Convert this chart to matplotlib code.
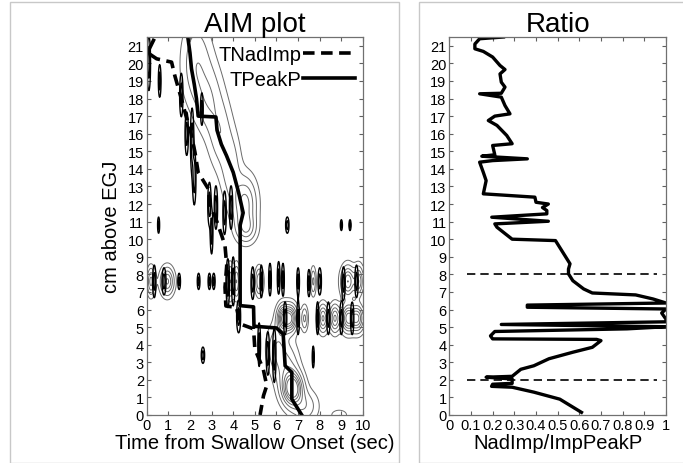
import numpy as np
import matplotlib
matplotlib.use("Agg")
import matplotlib.pyplot as plt
from matplotlib.patches import Rectangle
from matplotlib.ticker import FuncFormatter

plt.rcParams['font.family'] = ['Liberation Sans', 'DejaVu Sans']

# TPeakP / TNadImp traces (time in s, position in cm above EGJ)
peak_t = [1.9, 2.0, 2.07, 2.2, 2.3, 2.38, 3.2, 3.25, 3.45, 3.69, 4.0, 4.24, 4.46, 4.32, 4.32, 4.94, 4.96, 6.0, 6.31, 6.4, 6.71, 6.71, 7.17]
peak_z = [21.5, 20.6, 19.7, 18.8, 18.0, 17.0, 16.95, 16.2, 15.4, 14.75, 13.8, 12.7, 11.5, 10.8, 6.22, 6.15, 5.05, 4.95, 4.6, 2.8, 2.43, 0.9, 0.0]
nad_t = [0.35, 0.15, 0.05, 0.46, 1.15, 1.3, 1.6, 1.82, 2.0, 2.23, 2.38, 2.85, 2.93, 3.16, 3.47, 3.62, 3.70, 3.62, 3.66, 4.15, 4.32, 4.94, 5.0, 5.39, 5.55, 5.4, 5.24]
nad_z = [21.4, 20.9, 20.6, 20.26, 20.07, 19.3, 18.0, 17.0, 16.3, 14.95, 13.8, 12.86, 11.9, 11.3, 10.2, 9.63, 8.5, 7.27, 6.2, 6.12, 5.18, 4.9, 3.76, 2.6, 1.67, 1.1, 0.0]

# NadImp/ImpPeakP ratio profile
ratio_r = [0.61, 0.51, 0.39, 0.29, 0.195, 0.2, 0.29, 0.29, 0.17, 0.29, 0.33, 0.39, 0.46, 0.57, 0.66, 0.70, 0.68, 0.20, 0.19, 0.21,
           0.82, 1.0, 0.24, 1.0, 1.0, 0.98, 1.0, 0.36, 0.36, 1.0, 0.94, 0.86, 0.66, 0.62, 0.57, 0.55, 0.55, 0.557,
           0.49, 0.29, 0.22, 0.21, 0.457, 0.196, 0.45, 0.45, 0.43, 0.457, 0.40, 0.395, 0.157, 0.17, 0.157, 0.14,
           0.20, 0.36, 0.15, 0.21, 0.20, 0.29, 0.265, 0.22, 0.18, 0.21, 0.28, 0.257, 0.24, 0.14, 0.24, 0.257,
           0.24, 0.234, 0.257, 0.234, 0.20, 0.157, 0.118, 0.118, 0.14, 0.25]
ratio_z = [0.15, 0.9, 1.3, 1.58, 1.63, 1.75, 1.8, 2.05, 2.15, 2.2, 2.6, 2.8, 3.2, 3.57, 3.85, 4.23, 4.3, 4.33, 4.5, 4.75,
           4.9, 5.02, 5.15, 5.3, 5.45, 5.8, 6.03, 6.13, 6.25, 6.37, 6.6, 6.83, 6.94, 7.17, 7.64, 8.03, 8.3, 8.6,
           9.92, 10.0, 10.68, 10.87, 11.02, 11.25, 11.44, 11.63, 11.8, 12.0, 12.1, 12.39, 12.58, 13.33, 13.8, 14.38,
           14.47, 14.57, 14.72, 14.8, 15.33, 15.43, 15.9, 16.47, 16.75, 17.0, 17.13, 17.6, 18.08, 18.27, 18.3, 18.65,
           18.93, 19.4, 19.65, 19.88, 20.36, 20.68, 20.83, 21.1, 21.4, 21.5]
ratio_lim_z = [2, 8]

# pressure blobs (gray contours): t, z, width t, width z, amplitude
pr_t = [2.3, 2.9, 3.4, 3.9, 4.55, 4.6, 6.0, 6.5, 6.75, 7.3, 8.9,
        6.3, 6.65, 7.3, 8.15, 8.7, 9.3, 9.75,
        0.2, 0.95, 3.85, 4.15, 5.2, 7.7, 9.3, 9.8]
pr_z = [20.0, 18.0, 16.0, 14.0, 12.0, 10.6, 3.8, 2.6, 1.5, 0.5, 0.0,
        5.5, 5.5, 5.5, 5.5, 5.5, 5.5, 5.5,
        7.6, 7.6, 7.6, 7.6, 7.6, 7.6, 7.6, 7.6]
pr_wt = [0.45, 0.4, 0.35, 0.3, 0.35, 0.3, 0.3, 0.35, 0.3, 0.4, 0.25,
         0.18, 0.2, 0.1, 0.15, 0.15, 0.2, 0.2,
         0.12, 0.2, 0.1, 0.1, 0.12, 0.08, 0.2, 0.15]
pr_wz = [1.6, 1.3, 1.3, 1.3, 1.0, 0.5, 0.9, 1.0, 0.6, 0.6, 0.2,
         0.5, 0.5, 0.45, 0.5, 0.5, 0.5, 0.5,
         0.5, 0.5, 0.6, 0.6, 0.5, 0.5, 0.55, 0.55]
pr_a = [0.5, 0.45, 0.45, 0.45, 0.9, 0.6, 0.5, 0.6, 1.8, 0.5, 0.3,
        1.4, 1.5, 0.6, 1.1, 1.1, 1.4, 1.3,
        0.9, 1.1, 0.8, 0.8, 0.8, 0.6, 1.3, 1.0]

# impedance blobs (black contours)
im_t = [0.1, 0.6, 1.6, 1.85, 2.1, 2.2, 2.55, 2.9, 3.2, 3.0, 3.6, 3.9, 0.55, 4.25, 5.2, 5.6, 5.9, 7.7, 2.6, 6.5, 9.0, 9.4,
        0.35, 0.8, 1.5, 2.4, 2.9, 3.1, 3.75, 4.0, 4.9, 5.3, 5.7, 6.1, 6.3, 7.0, 7.5, 8.0, 9.1, 9.7,
        6.4, 7.0, 7.9, 8.4, 9.0, 9.5]
im_z = [20.0, 19.0, 18.2, 16.0, 15.6, 13.5, 17.4, 12.0, 11.8, 10.4, 11.5, 11.8, 10.8, 5.6, 4.0, 3.5, 3.4, 3.3, 3.4, 10.8, 10.8, 10.8,
        7.6, 7.6, 7.6, 7.6, 7.6, 7.6, 7.5, 7.6, 7.5, 7.6, 7.7, 7.8, 7.7, 7.6, 7.5, 7.6, 7.5, 7.6,
        5.5, 5.5, 5.5, 5.5, 5.5, 5.5]
im_wt = [0.05, 0.04, 0.05, 0.05, 0.05, 0.05, 0.04, 0.05, 0.05, 0.04, 0.05, 0.05, 0.03, 0.06, 0.04, 0.05, 0.05, 0.03, 0.05, 0.05, 0.03, 0.03,
         0.05, 0.06, 0.04, 0.04, 0.04, 0.04, 0.05, 0.05, 0.05, 0.04, 0.04, 0.04, 0.04, 0.04, 0.04, 0.05, 0.05, 0.05,
         0.05, 0.04, 0.04, 0.05, 0.05, 0.05]
im_wz = [1.0, 0.6, 0.8, 0.8, 1.2, 1.0, 0.6, 0.8, 0.8, 0.8, 0.8, 0.8, 0.3, 0.6, 0.8, 0.8, 1.0, 0.4, 0.3, 0.3, 0.2, 0.2,
         0.6, 0.5, 0.3, 0.3, 0.3, 0.3, 0.9, 0.9, 0.6, 0.6, 0.6, 0.6, 0.6, 0.5, 0.5, 0.5, 0.6, 0.6,
         0.6, 0.6, 0.6, 0.6, 0.6, 0.6]

t = np.linspace(0, 10, 501)
z = np.linspace(0, 21.5, 601)
T, Z = np.meshgrid(t, z)
P = np.zeros_like(T)
for a, b, wa, wb, amp in zip(pr_t, pr_z, pr_wt, pr_wz, pr_a):
    P += amp * np.exp(-0.5 * (((T - a) / wa) ** 2 + ((Z - b) / wb) ** 2))
I = np.zeros_like(T)
for a, b, wa, wb in zip(im_t, im_z, im_wt, im_wz):
    I += np.exp(-0.5 * (((T - a) / wa) ** 2 + ((Z - b) / wb) ** 2))

fig = plt.figure(figsize=(6.83, 4.64), dpi=100)
fig.patches.append(Rectangle((10 / 683, 0), 389 / 683, 461 / 464, transform=fig.transFigure, fill=False, edgecolor='#c8c8c8', lw=1))
fig.patches.append(Rectangle((419 / 683, 0), 270 / 683, 461 / 464, transform=fig.transFigure, fill=False, edgecolor='#c8c8c8', lw=1))

def style(ax):
    ax.set_ylim(0, 21.5)
    ax.set_yticks(range(0, 22))
    ax.tick_params(direction='in', top=True, right=True, length=3, width=0.8, color='#606060', labelsize=10.5, pad=2)
    for s in ax.spines.values():
        s.set_color('#707070'); s.set_linewidth(0.9)

ax1 = fig.add_axes([146.7 / 683, 48 / 464, 216.3 / 683, 378 / 464])
ax1.contour(T, Z, P, levels=[0.12, 0.3, 0.55, 0.8, 1.05, 1.3, 1.55], colors='#6a6a6a', linewidths=0.7)
ax1.contour(T, Z, I, levels=[0.3, 0.7], colors='black', linewidths=1.0)
ax1.plot(nad_t, nad_z, color='black', lw=2.6, ls=(0, (3.2, 1.8)), label='TNadImp')
ax1.plot(peak_t, peak_z, color='black', lw=2.6, label='TPeakP')
ax1.set_xlim(0, 10)
ax1.set_xticks(range(0, 11))
style(ax1)
ax1.set_title('AIM plot', fontsize=20, pad=4)
ax1.set_xlabel('Time from Swallow Onset (sec)', fontsize=14.5, labelpad=1)
ax1.set_ylabel('cm above EGJ', fontsize=14.5)
ax1.yaxis.set_label_coords(-0.12, 0.5)
leg = ax1.legend(loc='upper right', frameon=False, fontsize=14.5, markerfirst=False, handlelength=2.6,
                 handletextpad=0.05, labelspacing=0.3, borderaxespad=0.1, borderpad=0.3)
leg.set_zorder(5)

ax2 = fig.add_axes([449.3 / 683, 48 / 464, 216.7 / 683, 378 / 464])
ax2.plot(ratio_r, ratio_z, color='black', lw=2.4)
for zz in ratio_lim_z:
    ax2.plot([0.08, 0.96], [zz, zz], color='black', lw=1.2, ls=(0, (5, 3)))
ax2.set_xlim(0, 1)
ax2.set_xticks(np.round(np.arange(0, 1.01, 0.1), 1))
ax2.xaxis.set_major_formatter(FuncFormatter(lambda v, p: f'{v:g}'))
style(ax2)
ax2.set_title('Ratio', fontsize=20, pad=4)
ax2.set_xlabel('NadImp/ImpPeakP', fontsize=14.5, labelpad=1)

fig.savefig('out.png', dpi=100)
